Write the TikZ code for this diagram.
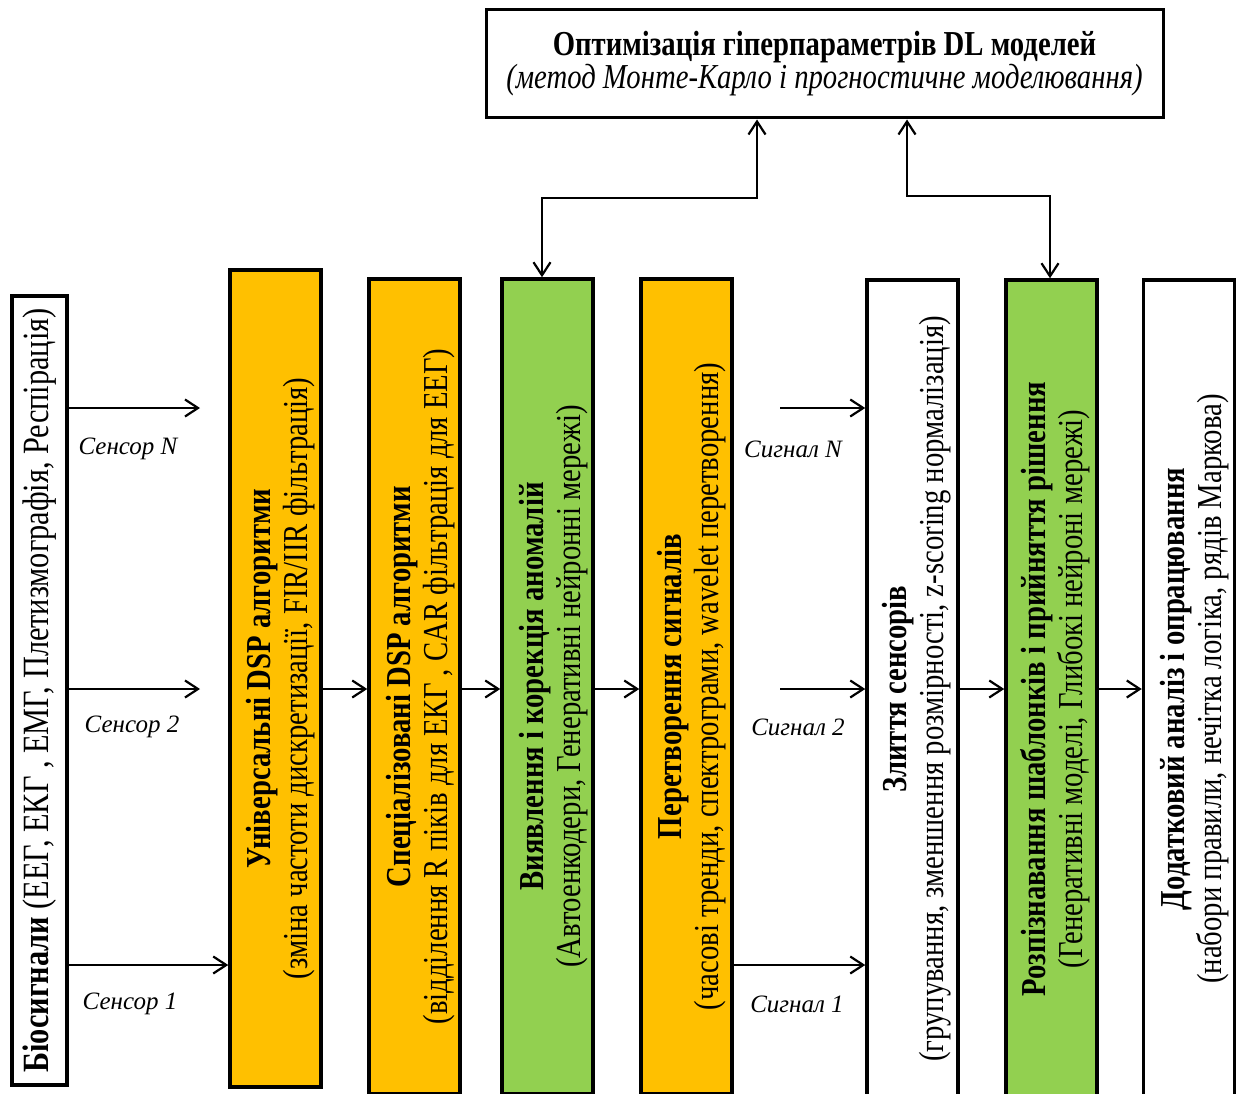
\documentclass[tikz,border=0pt]{standalone}
\usepackage{fontspec}
\setmainfont{Liberation Serif}
\newfontfamily\boxfont[FakeStretch=0.82]{Liberation Serif}
\usepackage{tikz}
\usetikzlibrary{arrows.meta, calc}

\definecolor{dspor}{HTML}{FFC000}
\definecolor{mlgr}{HTML}{92D050}

\tikzset{
  blk/.style={draw, line width=3.5pt, minimum width=91pt, minimum height=815pt, inner sep=0pt},
  vtxt/.style={rotate=90, align=center, font=\boxfont\fontsize{35}{37}\selectfont},
  arr/.style={line width=2.2pt, -{Straight Barb[length=13pt,width=17pt]}},
  dbl/.style={line width=2.2pt, {Straight Barb[length=13pt,width=17pt]}-{Straight Barb[length=13pt,width=17pt]}},
  lbl/.style={font=\itshape\fontsize{25}{30}\selectfont},
}

\begin{document}
\begin{tikzpicture}[x=1pt,y=-1pt]
  \useasboundingbox (0,0) rectangle (1237,1094);

  % optimisation box
  \node[draw, line width=3pt, minimum width=677pt, minimum height=108pt, align=center,
        font=\boxfont\fontsize{35}{33}\selectfont] (opt) at (824.5,64)
    {\textbf{Оптимізація гіперпараметрів DL моделей}\\
     \textit{(метод Монте-Карло і прогностичне моделювання)}};

  % blocks
  \node[blk, minimum width=55pt, minimum height=789pt] (bio) at (39.5,690.5) {};
  \node[vtxt, font=\boxfont\fontsize{37}{40}\selectfont] (bio-t) at (bio)
    {\textbf{Біосигнали} (ЕЕГ, ЕКГ , ЕМГ, Плетизмографія, Респірація)};

  \node[blk, fill=dspor, minimum height=817pt] (univ) at (275.5,678.5) {};
  \node[vtxt] (univ-t) at ($(univ)+(5,0)$) {\textbf{Універсальні DSP алгоритми}\\
    (зміна частоти дискретизації, FIR/IIR фільтрація)};

  \node[blk, fill=dspor] (spec) at (414.5,686.5) {};
  \node[vtxt] (spec-t) at ($(spec)+(6,0)$) {\textbf{Спеціалізовані DSP алгоритми}\\
    (відділення R піків для ЕКГ , CAR фільтрація для ЕЕГ)};

  \node[blk, fill=mlgr] (anom) at (547.5,686.5) {};
  \node[vtxt] (anom-t) at ($(anom)+(6,0)$) {\textbf{Виявлення і корекція аномалій}\\
    (Автоенкодери, Генеративні нейронні мережі)};

  \node[blk, fill=dspor] (trans) at (686.5,686.5) {};
  \node[vtxt] (trans-t) at ($(trans)+(5,0)$) {\textbf{Перетворення сигналів}\\
    (часові тренди, спектрограми, wavelet перетворення)};

  \node[blk, minimum height=818pt] (fus) at (912.5,689) {};
  \node[vtxt] (fus-t) at ($(fus)+(4,0)$) {\textbf{Злиття сенсорів}\\
    (групування, зменшення розмірності, z-scoring нормалізація)};

  \node[blk, fill=mlgr, minimum height=818pt] (patt) at (1051.5,689) {};
  \node[vtxt] (patt-t) at ($(patt)+(4,0)$) {\textbf{Розпізнавання шаблонків і прийняття рішення}\\
    (Генеративні моделі, Глибокі нейроні мережі)};

  \node[blk, minimum height=818pt] (add) at (1189,689) {};
  \node[vtxt] (add-t) at ($(add)+(6,0)$) {\textbf{Додатковий аналіз і опрацювання}\\
    (набори правили, нечітка логіка, рядів Маркова)};

  % sensors
  \coordinate (sN) at (200,408);
  \coordinate (s2) at (200,689);
  \coordinate (s1) at (200,965);
  \draw[arr] (bio.east |- sN) -- (sN);
  \draw[arr] (bio.east |- s2) -- (s2);
  \draw[arr] (bio.east |- s1) -- (univ.west |- s1);
  \node[lbl] (lsN) at (128,449) {Сенсор N};
  \node[lbl] (ls2) at (132,727) {Сенсор 2};
  \node[lbl] (ls1) at (130,1004) {Сенсор 1};

  % chain
  \draw[arr] (univ.east |- s2) -- (spec.west |- s2);
  \draw[arr] (spec.east |- s2) -- (anom.west |- s2);
  \draw[arr] (anom.east |- s2) -- (trans.west |- s2);
  \draw[arr] (fus.east |- s2) -- (patt.west |- s2);
  \draw[arr] (patt.east |- s2) -- (add.west |- s2);

  % signals
  \coordinate (gN) at (780,408);
  \coordinate (g2) at (780,689);
  \draw[arr] (gN) -- (fus.west |- gN);
  \draw[arr] (g2) -- (fus.west |- g2);
  \draw[arr] (trans.east |- s1) -- (fus.west |- s1);
  \node[lbl] (lgN) at (793,449) {Сигнал N};
  \node[lbl] (lg2) at (798,727) {Сигнал 2};
  \node[lbl] (lg1) at (797,1004) {Сигнал 1};

  % feedback to optimisation
  \coordinate (k1) at (542,198);
  \coordinate (k2) at (757,198);
  \coordinate (k3) at (907,196);
  \coordinate (k4) at (1050,196);
  \draw[dbl] (anom.north -| k1) -- (k1) -- (k2) -- (opt.south -| k2);
  \draw[dbl] (opt.south -| k3) -- (k3) -- (k4) -- (patt.north -| k4);
\end{tikzpicture}
\end{document}
